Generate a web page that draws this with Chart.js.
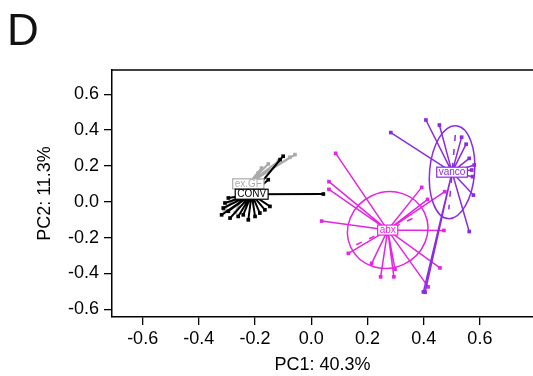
<!DOCTYPE html>
<html>
<head>
<meta charset="utf-8">
<script src="https://cdn.jsdelivr.net/npm/chart.js@4/dist/chart.umd.min.js"></script>
<style>
html, body { margin: 0; padding: 0; background: #fff; }
#wrap { width: 533px; height: 376px; position: relative; }
</style>
</head>
<body>
<div id="wrap"><canvas id="pcaChart"></canvas></div>
<script>
// PCA scores (PC1, PC2)
const convCenter = [-0.212, 0.042];
const convX = [-0.295, -0.307, -0.313, -0.319, -0.289, -0.260, -0.242, -0.224, -0.200, -0.183, -0.165, -0.147, -0.100, -0.111, -0.153, 0.043, -0.295];
const convY = [0.021, -0.007, -0.035, -0.073, -0.091, -0.082, -0.073, -0.101, -0.082, -0.063, -0.045, -0.026, 0.254, 0.235, 0.123, 0.043, -0.053];

const exgfCenter = [-0.224, 0.100];
const exgfX = [-0.058, -0.076, -0.117, -0.153, -0.177, -0.189, -0.310, -0.270];
const exgfY = [0.263, 0.248, 0.226, 0.211, 0.188, 0.160, -0.045, -0.060];

const abxCenter = [0.272, -0.158];
const abxX = [0.087, 0.063, 0.063, 0.037, 0.132, 0.215, 0.247, 0.294, 0.298, 0.458, 0.416, 0.472, 0.393, 0.414, 0.475];
const abxY = [0.270, 0.112, 0.069, -0.108, -0.288, -0.344, -0.419, -0.419, -0.376, -0.369, -0.475, -0.160, 0.080, 0.013, 0.056];

const vancoCenter = [0.501, 0.165];
const vancoX = [0.283, 0.408, 0.456, 0.535, 0.551, 0.562, 0.580, 0.571, 0.574, 0.577, 0.562, 0.399, 0.405];
const vancoY = [0.386, 0.456, 0.428, 0.360, 0.321, 0.242, 0.205, 0.177, 0.140, 0.037, -0.166, -0.503, -0.505];

// confidence ellipses: half-widths in PC units, tilt in degrees
const abxEllipse = [0.145, 0.211, -25];
const vancoEllipse = [0.080, 0.260, 5];

const xTicks = [-0.6, -0.4, -0.2, 0.0, 0.2, 0.4, 0.6];
const yTicks = [-0.6, -0.4, -0.2, 0.0, 0.2, 0.4, 0.6];

const FONT = "'Liberation Sans', Arial, sans-serif";

//centre -> each sample, with a gap after each spoke
function spokes(center, xs, ys){
    let out = [];
    for (let i = 0; i < xs.length; i++){
        out.push({x: center[0], y: center[1]});
        out.push({x: xs[i], y: ys[i]});
        out.push({x: center[0], y: null});
    }
    return out;
}

function starSet(center, xs, ys, color, width){
    return {
        data: spokes(center, xs, ys),
        borderColor: color,
        backgroundColor: color,
        borderWidth: width,
        pointStyle: 'rect',
        pointRadius: c => c.dataIndex % 3 === 1 ? 2.6 : 0,
        pointBorderWidth: 0,
        pointBackgroundColor: color,
        spanGaps: false,
        tension: 0
    };
}

const groups = [
    {label: 'ex.GF', center: exgfCenter, color: '#ababab'},
    {label: 'CONV', center: convCenter, color: '#000000'},
    {label: 'abx', center: abxCenter, color: '#e526e0', ell: abxEllipse},
    {label: 'vanco', center: vancoCenter, color: '#8b2be2', ell: vancoEllipse}
];

const decorPlugin = {
    id: 'decor',
    afterDatasetsDraw(chart){
        const c = chart.ctx;
        const xs = chart.scales.x, ys = chart.scales.y;
        const area = chart.chartArea;

        // top frame line
        c.save();
        c.strokeStyle = '#000';
        c.lineWidth = 1.5;
        c.beginPath();
        c.moveTo(area.left, area.top);
        c.lineTo(area.right, area.top);
        c.stroke();
        c.restore();

        // ellipses
        groups.forEach(g => {
            if (!g.ell) return;
            const px = xs.getPixelForValue(g.center[0]);
            const py = ys.getPixelForValue(g.center[1]);
            const rx = Math.abs(xs.getPixelForValue(g.center[0] + g.ell[0]) - px);
            const ry = Math.abs(ys.getPixelForValue(g.center[1] + g.ell[1]) - py);
            const rot = g.ell[2] * Math.PI / 180;
            c.save();
            c.strokeStyle = g.color;
            c.lineWidth = 1.5;
            c.beginPath();
            c.ellipse(px, py, rx, ry, rot, 0, Math.PI * 2);
            c.stroke();
            // dashed long axis
            c.setLineDash([6, 8]);
            c.beginPath();
            if (rx >= ry){
                const dx = Math.cos(rot) * rx * 0.85, dy = Math.sin(rot) * rx * 0.85;
                c.moveTo(px - dx, py - dy);
                c.lineTo(px + dx, py + dy);
            } else {
                const dx = -Math.sin(rot) * ry * 0.8, dy = Math.cos(rot) * ry * 0.8;
                c.moveTo(px - dx, py - dy);
                c.lineTo(px + dx, py + dy);
            }
            c.stroke();
            c.restore();
        });

        // group labels in boxes
        groups.forEach(g => {
            const px = xs.getPixelForValue(g.center[0]);
            const py = ys.getPixelForValue(g.center[1]);
            c.save();
            c.font = '10px ' + FONT;
            const w = c.measureText(g.label).width;
            c.fillStyle = '#fff';
            c.fillRect(px - w / 2 - 2, py - 5, w + 4, 10);
            c.strokeStyle = g.color;
            c.lineWidth = 1.2;
            c.strokeRect(px - w / 2 - 2, py - 5, w + 4, 10);
            c.fillStyle = g.color;
            c.textAlign = 'center';
            c.textBaseline = 'middle';
            c.fillText(g.label, px, py + 0.5);
            c.restore();
        });

        // panel letter
        c.save();
        c.font = '44px ' + FONT;
        c.fillStyle = '#111';
        c.textBaseline = 'alphabetic';
        c.fillText('D', 7, 45);
        c.restore();
    }
};

const ctx = document.getElementById('pcaChart');
let chr = new Chart(ctx, {
    type: 'line',
    data: {
        datasets: [
            starSet(vancoCenter, vancoX, vancoY, '#8b2be2', 1.5),
            starSet(abxCenter, abxX, abxY, '#e526e0', 1.5),
            starSet(convCenter, convX, convY, '#000000', 2),
            starSet(exgfCenter, exgfX, exgfY, '#ababab', 2)
        ]
    },
    options: {
        responsive: true,
        maintainAspectRatio: false,
        animation: false,
        layout: {padding: {top: 70, left: 0, right: 0, bottom: 0}},
        plugins: {legend: {display: false}, tooltip: {enabled: false}},
        scales: {
            x: {
                type: 'linear',
                min: -0.709,
                max: 0.789,
                afterBuildTicks: s => { s.ticks = xTicks.map(v => ({value: v})); },
                afterFit: s => { s.height = 59; },
                grid: {drawOnChartArea: false, drawTicks: true, tickLength: 8, color: '#000', lineWidth: 1.3},
                border: {display: true, color: '#000', width: 1.5},
                ticks: {
                    color: '#000', padding: 3,
                    font: {family: FONT, size: 18},
                    callback: v => v.toFixed(1)
                },
                title: {
                    display: true, text: 'PC1: 40.3%', color: '#000',
                    font: {family: FONT, size: 18},
                    padding: {top: 0, bottom: 0}
                }
            },
            y: {
                type: 'linear',
                min: -0.643,
                max: 0.735,
                afterBuildTicks: s => { s.ticks = yTicks.map(v => ({value: v})); },
                afterFit: s => { s.width = 112; },
                grid: {drawOnChartArea: false, drawTicks: true, tickLength: 8, color: '#000', lineWidth: 1.3},
                border: {display: true, color: '#000', width: 1.5},
                ticks: {
                    color: '#000', padding: 5,
                    font: {family: FONT, size: 18},
                    callback: v => v.toFixed(1)
                },
                title: {
                    display: true, text: 'PC2: 11.3%', color: '#000',
                    font: {family: FONT, size: 18},
                    padding: {top: 34, bottom: 0}
                }
            }
        }
    },
    plugins: [decorPlugin]
});
</script>
</body>
</html>
